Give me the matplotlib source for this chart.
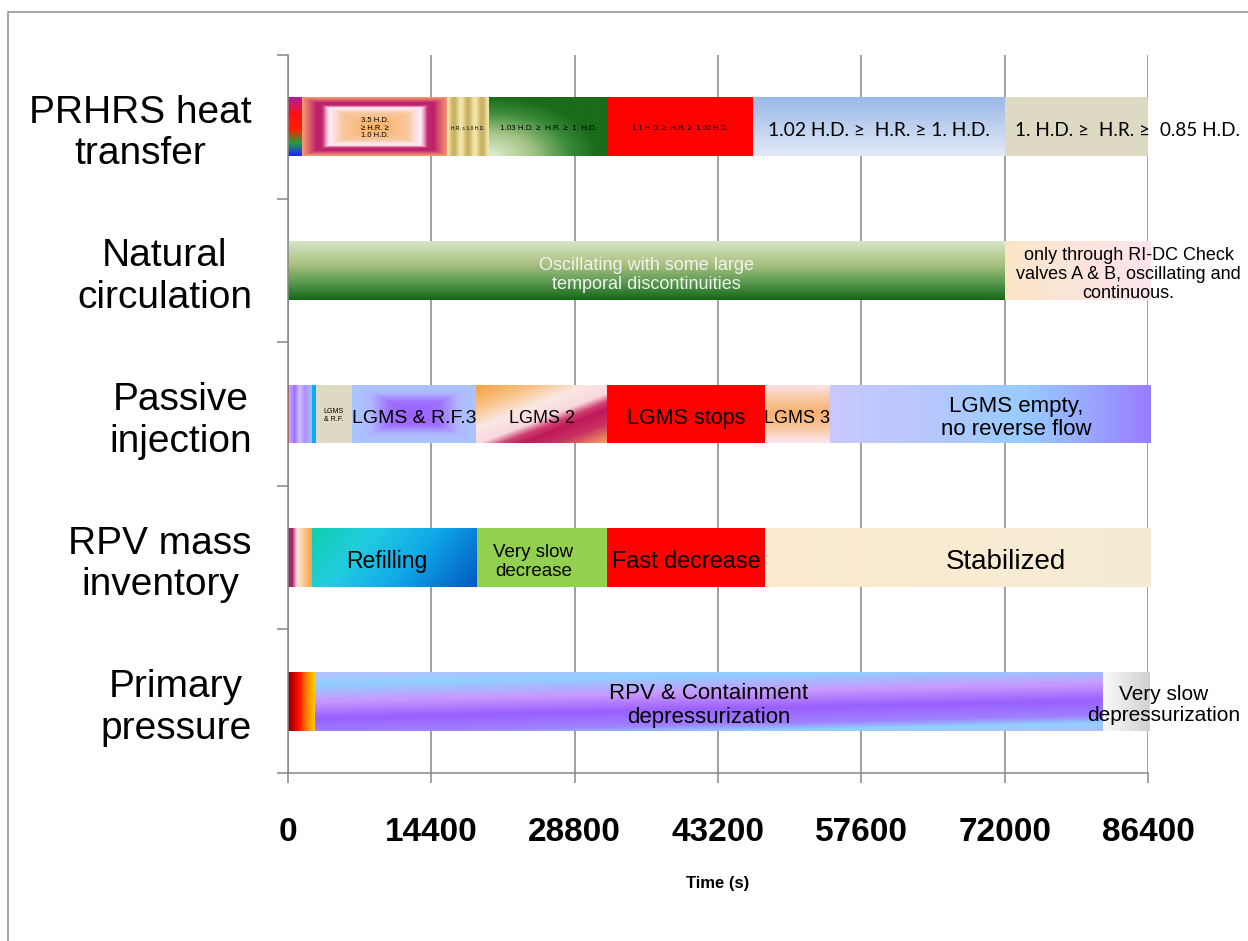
import numpy as np
import matplotlib
matplotlib.use("Agg")
import matplotlib.pyplot as plt
from matplotlib.patches import Rectangle
from matplotlib.colors import to_rgb

# rows, top to bottom
rows = ["PRHRS heat\ntransfer", "Natural\ncirculation", "Passive\ninjection",
        "RPV mass\ninventory", "Primary\npressure"]

# phase boundaries (s) and phase texts of every row
prhrs_edges = [0, 1400, 16000, 20200, 32150, 46700, 72000, 86600]
prhrs_text = ["", "3.5 H.D.\n≥ H.R. ≥\n1.0 H.D.", "H.R. ≈ 1.0 H.D.",
              "1.03 H.D. ≥  H.R. ≥  1. H.D.", "1.1 H.D. ≥  H.R. ≥  1.02 H.D.",
              "1.02 H.D. ≥  H.R. ≥ 1. H.D.", "1. H.D. ≥  H.R. ≥  0.85 H.D."]

natcirc_edges = [0, 72000, 86600]
natcirc_text = ["Oscillating with some large\ntemporal discontinuities",
                "only through RI-DC Check\nvalves A & B, oscillating and\ncontinuous."]

inject_edges = [0, 150, 2400, 2800, 6400, 18900, 32050, 47900, 54450, 86600]
inject_text = ["", "", "", "LGMS\n& R.F.", "LGMS & R.F.3", "LGMS 2", "LGMS stops",
               "LGMS 3", "LGMS empty,\nno reverse flow"]

mass_edges = [0, 500, 900, 2400, 18900, 32050, 47900, 86600]
mass_text = ["", "", "", "Refilling", "Very slow\ndecrease", "Fast decrease", "Stabilized"]

press_edges = [0, 2700, 81900, 86600]
press_text = ["", "RPV & Containment\ndepressurization", "Very slow\ndepressurization"]

xticks = [0, 14400, 28800, 43200, 57600, 72000, 86400]

# fills: ("s", colour) solid, otherwise (kind, colour stops, shape parameter)
prhrs_fill = [
    ("v", [(0, "#b01ca0"), (0.3, "#ff1010"), (0.55, "#ff2000"), (0.78, "#20a040"), (1, "#2020ff")], 0),
    ("frame", [(0, "#f4a070"), (0.1, "#e06070"), (0.2, "#b8206a"), (0.28, "#c02870"), (0.33, "#f0a0c0"),
               (0.37, "#fdecf2"), (0.43, "#fce4ea"), (0.55, "#f8c8a0"), (1, "#f8b060")], 0),
    ("stripes", [(0, "#c8b060"), (1, "#f2e6ac")], 3),
    ("corner", [(0, "#e2efd6"), (0.4, "#a4c486"), (0.75, "#3a8a3a"), (1, "#1a6b1a")], 0),
    ("s", "#ff0000"),
    ("v", [(0, "#9ab8e6"), (1, "#e2eaf7")], 0),
    ("s", "#ddd9c3"),
]
natcirc_fill = [
    ("v", [(0, "#d8e6c8"), (0.4, "#a8c080"), (0.7, "#5a9a50"), (1, "#146614")], 0),
    ("h", [(0, "#fbe6c8"), (1, "#fde4ee")], 0),
]
inject_fill = [
    ("s", "#ff0000"),
    ("h", [(0, "#b8b0ff"), (0.25, "#a070ff"), (0.45, "#d0c0ff"), (0.7, "#b090ff"), (1, "#a8c0ff")], 0),
    ("s", "#00b0f0"),
    ("s", "#ddd9c3"),
    ("frame", [(0, "#a8c8ff"), (0.3, "#b0b8ff"), (0.6, "#a070ff"), (1, "#9860ff")], 0),
    ("d", [(0, "#f4a040"), (0.2, "#f8c080"), (0.4, "#fce8e4"), (0.55, "#f8d8dc"), (0.63, "#d04070"),
           (0.7, "#c0185a"), (0.82, "#c83060"), (1, "#f4a060")], (1, 1.15)),
    ("s", "#ff0000"),
    ("v", [(0, "#fce4f0"), (0.25, "#f8c8a0"), (0.5, "#f8b070"), (0.75, "#f8c8a0"), (1, "#fce8f4")], 0),
    ("h", [(0, "#c8c8ff"), (0.3, "#b8c8ff"), (0.6, "#98ccff"), (0.8, "#98a8ff"), (1, "#9a7cff")], 0),
]
mass_fill = [
    ("s", "#9a3060"),
    ("h", [(0, "#e0307a"), (1, "#fce0e8")], 0),
    ("h", [(0, "#fde8d8"), (1, "#f8a040")], 0),
    ("d", [(0, "#10cfb0"), (0.3, "#22cce0"), (0.6, "#10a8e8"), (1, "#0058c0")], (1, 0.3)),
    ("s", "#92d050"),
    ("s", "#ff0000"),
    ("h", [(0, "#fdebd0"), (1, "#f5ebd5")], 0),
]
press_fill = [
    ("h", [(0, "#800000"), (0.35, "#ff0000"), (0.7, "#ff8000"), (1, "#ffd000")], 0),
    ("d", [(0, "#b8c0ff"), (0.15, "#90d0ff"), (0.38, "#c898ff"), (0.6, "#9a60ff"), (0.8, "#a080ff"),
           (0.9, "#90d0ff"), (1, "#b0c0ff")], (0.3, 1)),
    ("h", [(0, "#fafafa"), (1, "#d0d0d0")], 0),
]

# text sizes (pt) per phase
prhrs_size = [0, 5.5, 3.6, 5.8, 5.5, 13.9, 13.6]
natcirc_size = [13, 13]
inject_size = [0, 0, 0, 5, 14, 13, 15.5, 13, 16]
mass_size = [0, 0, 0, 16.5, 13.5, 16.8, 20]
press_size = [0, 16, 15]

# horizontal text shift (points) where the text is not centred on its phase
shift = {(0, 6): 36, (1, 1): 37, (2, 8): 19, (3, 3): -5, (3, 4): -6, (3, 6): 35, (4, 2): 27}
calibri_like = {(0, 5), (0, 6)}

SANS = ["Liberation Sans", "DejaVu Sans"]
GREY = "#868686"


def ramp(stops, s):
    pos = [p for p, _ in stops]
    cols = np.array([to_rgb(c) for _, c in stops])
    return np.stack([np.interp(s, pos, cols[:, k]) for k in range(3)], axis=-1)


def shade(kind, stops, k, w, h):
    yy, xx = np.mgrid[0:h, 0:w]
    u = (xx + 0.5) / w
    v = (yy + 0.5) / h
    if kind == "h":
        s = u
    elif kind == "v":
        s = v
    elif kind == "d":
        s = k[0] * u + k[1] * v
        s = (s - s.min()) / (s.max() - s.min())
    elif kind == "frame":
        s = 1 - 2 * np.maximum(abs(u - 0.5), abs(v - 0.5))
    elif kind == "stripes":
        s = 0.5 + 0.5 * np.cos(2 * np.pi * k * u)
    else:  # corner
        s = np.clip(np.hypot(u * 1.1, 1 - v), 0, 1)
    return ramp(stops, s)


fig = plt.figure(figsize=(12.48, 9.41), dpi=100)
ax = fig.add_axes([288 / 1248, 1 - 773 / 941, 860 / 1248, 718 / 941])

bar_h = 0.41
all_edges = [prhrs_edges, natcirc_edges, inject_edges, mass_edges, press_edges]
all_text = [prhrs_text, natcirc_text, inject_text, mass_text, press_text]
all_fill = [prhrs_fill, natcirc_fill, inject_fill, mass_fill, press_fill]
all_size = [prhrs_size, natcirc_size, inject_size, mass_size, press_size]

for i in range(len(rows)):
    y = len(rows) - 1 - i
    edges = np.array(all_edges[i])
    left, width = edges[:-1], np.diff(edges)
    colors = [f[1] if f[0] == "s" else f[1][len(f[1]) // 2][1] for f in all_fill[i]]
    bars = ax.barh(y, width, left=left, height=bar_h, color=colors, linewidth=0, zorder=2)
    for j, (b, f) in enumerate(zip(bars, all_fill[i])):
        x0, w = b.get_x(), b.get_width()
        if f[0] != "s":
            wpx = max(int(w / 86400 * 860), 4)
            img = shade(f[0], f[1], f[2], wpx, 59)
            im = ax.imshow(img, extent=(x0, x0 + w, y - bar_h / 2, y + bar_h / 2),
                           aspect="auto", interpolation="bilinear", zorder=2.5)
            im.set_clip_path(b)
        txt = all_text[i][j]
        if txt:
            fam = ["Lato", "DejaVu Sans"] if (i, j) in calibri_like else SANS
            col = "#f2f2f2" if (i, j) == (1, 0) else "black"
            dy = -1 if all_size[i][j] < 8 else -3
            ax.annotate(txt, xy=(x0 + w / 2, y), xytext=(shift.get((i, j), 0), dy),
                        textcoords="offset points", ha="center", va="center",
                        fontsize=all_size[i][j], color=col, family=fam,
                        linespacing=1.15, zorder=4, annotation_clip=False)

ax.set_xlim(0, 86400)
ax.set_ylim(-0.5, len(rows) - 0.5)

ax.set_xticks(xticks)
ax.set_xticklabels([str(t) for t in xticks], fontsize=24, fontweight="bold", family=SANS)
ax.tick_params(axis="x", length=7, width=1.1, color=GREY, pad=25)

ax.set_yticks(range(len(rows)))
ax.set_yticklabels(rows[::-1], fontsize=28, family=SANS, multialignment="center")
ax.set_yticks(np.arange(-0.5, len(rows), 1), minor=True)
ax.tick_params(axis="y", which="major", length=0, pad=26)
ax.tick_params(axis="y", which="minor", length=8, width=1.1, color=GREY)

ax.xaxis.grid(True, color=GREY, lw=1.1)
ax.set_axisbelow(True)
for side in ["top", "right"]:
    ax.spines[side].set_visible(False)
for side in ["left", "bottom"]:
    ax.spines[side].set_color(GREY)
    ax.spines[side].set_linewidth(1.1)

ax.set_xlabel("Time (s)", fontsize=12, fontweight="bold", family=SANS, labelpad=20)

fig.add_artist(Rectangle((8 / 1248, -0.05), 1.1, 1.05 - 12 / 941, transform=fig.transFigure,
                         fill=False, edgecolor="#8c8c8c", lw=1.1))

fig.savefig("out.png", dpi=100)
